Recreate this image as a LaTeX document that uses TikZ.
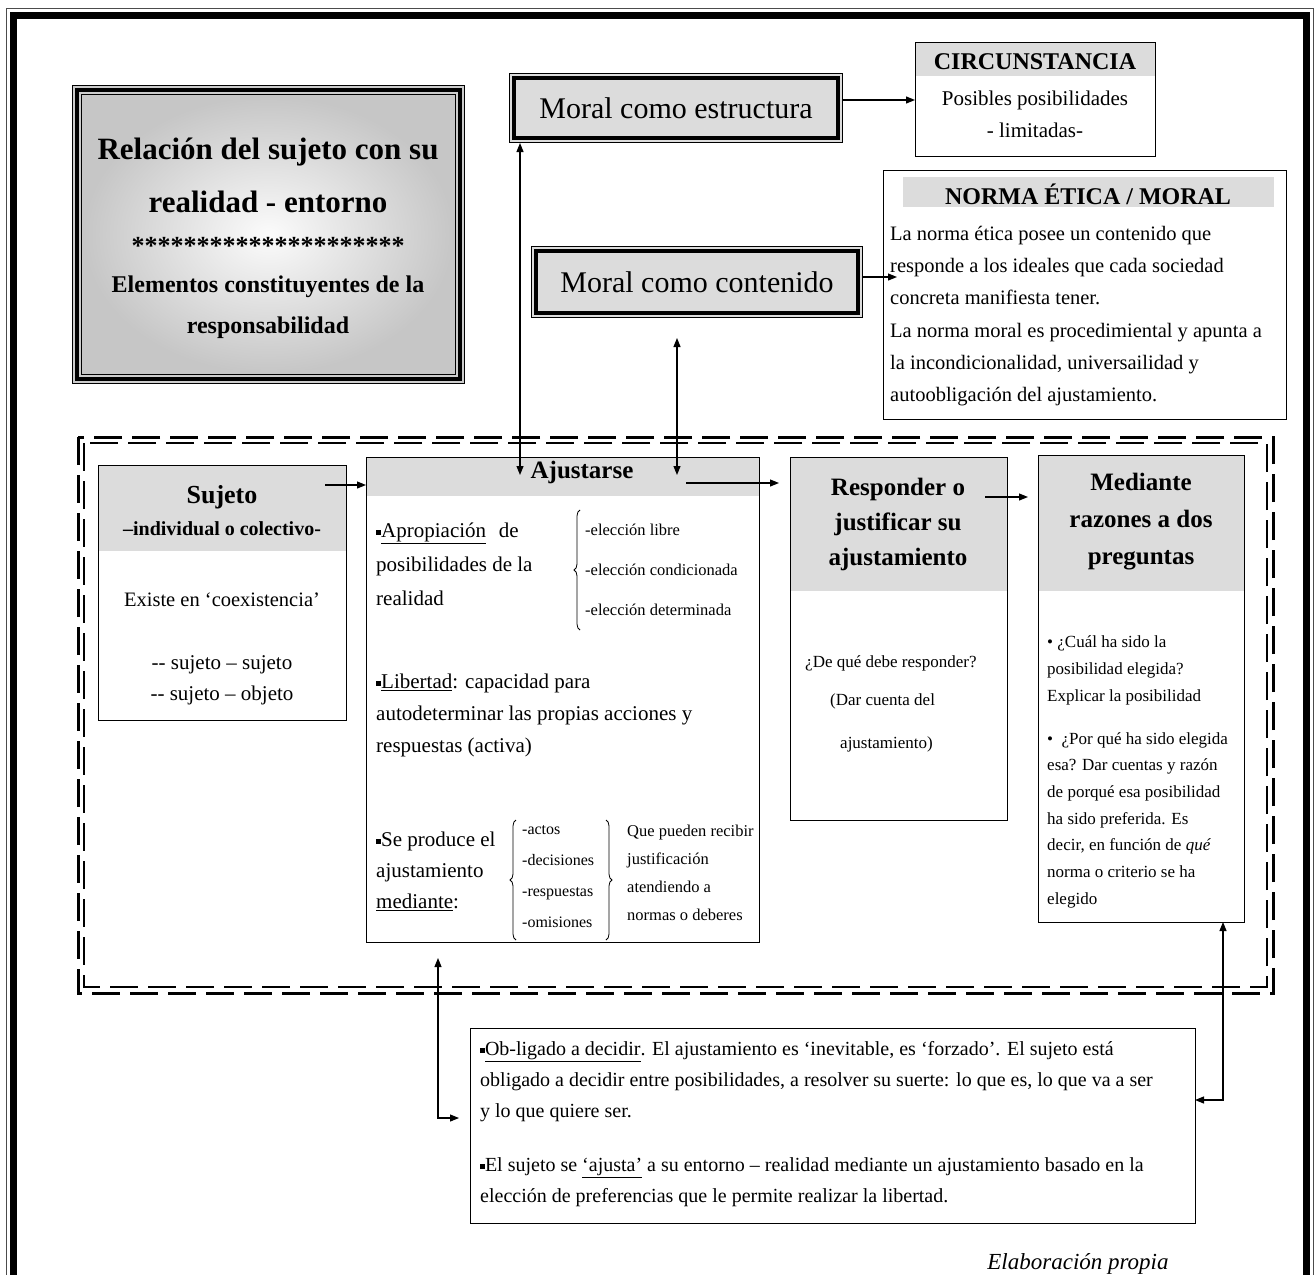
\documentclass[tikz,border=0pt]{standalone}
\usepackage{fontspec}
\setmainfont{Liberation Serif}
\usetikzlibrary{arrows.meta,decorations.pathreplacing,shadings}
\definecolor{hdr}{HTML}{DCDCDC}
\newcommand{\fs}[2]{\fontsize{#1}{#2}\selectfont}
\newcommand{\sqb}{\raisebox{0.25ex}{\rule{0.24em}{0.24em}}}
\begin{document}
\begin{tikzpicture}[x=1pt,y=-1pt,
  box/.style={draw, line width=1.3pt, inner sep=0pt, anchor=north west},
  hdrh/.style={path picture={\fill[hdr] (path picture bounding box.north west) rectangle ([yshift=-#1]path picture bounding box.north east);}},
  arr/.style={line width=1.1pt,-{Triangle[length=9pt,width=7pt]}},
  arr2/.style={line width=1.1pt,{Triangle[length=9pt,width=7pt]}-{Triangle[length=9pt,width=7pt]}},
  lt/.style={inner sep=0pt, anchor=north west, align=left},
  ct/.style={inner sep=0pt, align=center},
  brc/.style={decorate, decoration={brace, amplitude=6pt}, line width=0.8pt},
  dashA/.style={line width=3pt, dash pattern=on 28pt off 10pt},
  dashB/.style={line width=1.8pt, dash pattern=on 28pt off 10pt},
]
\useasboundingbox (0,0) rectangle (1316,1274);
\clip (0,0) rectangle (1316,1274);
\fill[white] (0,0) rectangle (1316,1274);

% outer frame
\draw[line width=1pt, gray!60!black] (6,8) rectangle (1313,1300);
\draw[line width=7pt] (13,15.5) rectangle (1306,1300);

% title box
\node[draw, line width=1pt, fill=gray!40, minimum width=392pt, minimum height=298pt, anchor=north west, inner sep=0pt] (title) at (72,85) {};
\shade[inner color=gray!3, outer color=gray!45] ([shift={(10,10)}]title.north west) rectangle ([shift={(-10,-10)}]title.south east);
\draw[line width=4pt] ([shift={(5,5)}]title.north west) rectangle ([shift={(-5,-5)}]title.south east);
\draw[line width=0.8pt] ([shift={(9.5,9.5)}]title.north west) rectangle ([shift={(-9.5,-9.5)}]title.south east);
\node[ct, font=\bfseries\fs{31}{40}] (t1) at (268,152) {Relación del sujeto con su};
\node[ct, font=\bfseries\fs{31}{40}] (t2) at (268,202) {realidad - entorno};
\node[ct, font=\bfseries\fs{26}{30}] (t3) at (268,246) {*********************};
\node[ct, font=\bfseries\fs{24}{30}] (t4) at (268,287) {Elementos constituyentes de la};
\node[ct, font=\bfseries\fs{24}{30}] (t5) at (268,328) {responsabilidad};

% moral como estructura
\node[draw, line width=1pt, fill=hdr, minimum width=333pt, minimum height=69pt, anchor=north west, inner sep=0pt, font=\fs{30}{36}] (est) at (509,73) {Moral como estructura};
\draw[line width=4pt] ([shift={(5,5)}]est.north west) rectangle ([shift={(-5,-5)}]est.south east);

% circunstancia
\node[box, hdrh=33pt, minimum width=240pt, minimum height=114pt] (circ) at (915,42) {};
\node[ct, font=\bfseries\fs{24}{30}] (circT) at (1035,62) {CIRCUNSTANCIA};
\node[ct, font=\fs{21}{30}] (circB) at (1035,100) {Posibles posibilidades};
\node[ct, font=\fs{21}{30}] (circC) at (1035,130) {- limitadas-};

% norma etica / moral
\node[box, minimum width=403pt, minimum height=249pt] (norma) at (883,170) {};
\fill[hdr] (903,177) rectangle (1274,207);
\node[ct, font=\bfseries\fs{24}{30}] (normaT) at (1088,194) {NORMA ÉTICA / MORAL};
\node[lt, font=\fs{20.5}{32.2}] (normaB) at (890,226) {La norma ética posee un contenido que\\responde a los ideales que cada sociedad\\concreta manifiesta tener.\\La norma moral es procedimiental y apunta a\\la incondicionalidad, universailidad y\\autoobligación del ajustamiento.};

% moral como contenido
\node[draw, line width=1pt, fill=hdr, minimum width=331pt, minimum height=71pt, anchor=north west, inner sep=0pt, font=\fs{30}{36}] (cont) at (531,246) {Moral como contenido};
\draw[line width=4pt] ([shift={(5,5)}]cont.north west) rectangle ([shift={(-5,-5)}]cont.south east);

% dashed region
\draw[dashA] (78,437) rectangle (1273,993);
\draw[dashB] (84,443) rectangle (1267,987);

% sujeto
\node[box, hdrh=85pt, minimum width=248pt, minimum height=255pt] (suj) at (98,465) {};
\node[ct, font=\bfseries\fs{26}{30}] (sujT) at (222,497) {Sujeto};
\node[ct, font=\bfseries\fs{20}{30}] (sujS) at (222,529) {–individual o colectivo-};
\node[ct, font=\fs{20.5}{30}] (sujB) at (222,600) {Existe en ‘coexistencia’};
\node[ct, font=\fs{21}{30}] (sujC) at (222,665) {-{}- sujeto – sujeto};
\node[ct, font=\fs{21}{30}] (sujD) at (222,695) {-{}- sujeto – objeto};

% ajustarse
\node[box, hdrh=38pt, minimum width=393pt, minimum height=485pt] (aj) at (366,457) {};
\node[ct, font=\bfseries\fs{25}{30}] (ajT) at (582,472) {Ajustarse};
\node[lt, font=\fs{21}{34}] (ap) at (376,523) {\sqb\underline{Apropiación}\hspace{0.6em}de\\posibilidades de la\\realidad};
\draw[brc] (580,630) -- (580,510);
\node[lt, font=\fs{16.5}{40}] (el) at (585,524) {-elección libre\\-elección condicionada\\-elección determinada};
\node[lt, font=\fs{21}{32}] (lib) at (376,674) {\sqb\underline{Libertad}: capacidad para\\autodeterminar las propias acciones y\\respuestas (activa)};
\node[lt, font=\fs{21}{31}] (sp) at (376,832) {\sqb Se produce el\\ajustamiento\\\underline{mediante}:};
\draw[brc] (516,940) -- (516,820);
\node[lt, font=\fs{16}{31}] (ac) at (522,825) {-actos\\-decisiones\\-respuestas\\-omisiones};
\draw[brc] (606,820) -- (606,940);
\node[lt, font=\fs{16.5}{28}] (qp) at (627,825) {Que pueden recibir\\justificación\\atendiendo a\\normas o deberes};

% responder
\node[box, hdrh=133pt, minimum width=217pt, minimum height=363pt] (resp) at (790,457) {};
\node[ct, anchor=north, font=\bfseries\fs{25}{35}] (respT) at (898,478) {Responder o\\justificar su\\ajustamiento};
\node[inner sep=0pt, anchor=base west, font=\fs{17}{20}] (respA) at (805,667) {¿De qué debe responder?};
\node[inner sep=0pt, anchor=base west, font=\fs{17}{20}] (respB) at (830,705) {(Dar cuenta del};
\node[inner sep=0pt, anchor=base west, font=\fs{17}{20}] (respC) at (840,748) {ajustamiento)};

% mediante
\node[box, hdrh=135pt, minimum width=206pt, minimum height=467pt] (med) at (1038,455) {};
\node[ct, anchor=north, font=\bfseries\fs{25}{37}] (medT) at (1141,473) {Mediante\\razones a dos\\preguntas};
\node[lt, font=\fs{17}{27}] (medA) at (1047,635) {\textbullet\ ¿Cuál ha sido la\\posibilidad elegida?\\Explicar la posibilidad};
\node[lt, font=\fs{17}{26.7}] (medB) at (1047,732) {\textbullet\ \ ¿Por qué ha sido elegida\\esa? Dar cuentas y razón\\de porqué esa posibilidad\\ha sido preferida. Es\\decir, en función de \textit{qué}\\norma o criterio se ha\\elegido};

% bottom box
\node[box, minimum width=725pt, minimum height=195pt] (bot) at (470,1028) {};
\node[lt, font=\fs{20}{31}] (botA) at (480,1041) {\sqb\underline{Ob-ligado a decidir}. El ajustamiento es ‘inevitable, es ‘forzado’. El sujeto está\\obligado a decidir entre posibilidades, a resolver su suerte: lo que es, lo que va a ser\\y lo que quiere ser.};
\node[lt, font=\fs{20}{31}] (botB) at (480,1157) {\sqb El sujeto se \underline{‘ajusta’} a su entorno – realidad mediante un ajustamiento basado en la\\elección de preferencias que le permite realizar la libertad.};

\node[inner sep=0pt, font=\itshape\fs{23}{28}] (elab) at (1078,1264) {Elaboración propia};

% connectors
\coordinate (ajA) at (520,475);
\draw[arr2] (ajA |- est.south) -- (ajA);
\coordinate (c1) at (677,338);
\coordinate (c2) at (677,475);
\draw[arr2] (c1) -- (c2);
\coordinate (ec) at (842,100);
\draw[arr] (ec) -- (ec -| circ.west);
\coordinate (cn1) at (862,277);
\coordinate (cn2) at (897,277);
\draw[arr] (cn1) -- (cn2);
\coordinate (sa) at (325,485);
\draw[arr] (sa) -- (sa -| aj.west);
\coordinate (ar1) at (686,483);
\coordinate (ar2) at (779,483);
\draw[arr] (ar1) -- (ar2);
\coordinate (rm1) at (985,497);
\coordinate (rm2) at (1028,497);
\draw[arr] (rm1) -- (rm2);
\coordinate (bl1) at (438,958);
\coordinate (bl2) at (459,1118);
\draw[arr2] (bl1) |- (bl2);
\coordinate (br1) at (1223,922);
\coordinate (br2) at (1195,1100);
\draw[arr2] (br1) |- (br2);
\end{tikzpicture}
\end{document}
